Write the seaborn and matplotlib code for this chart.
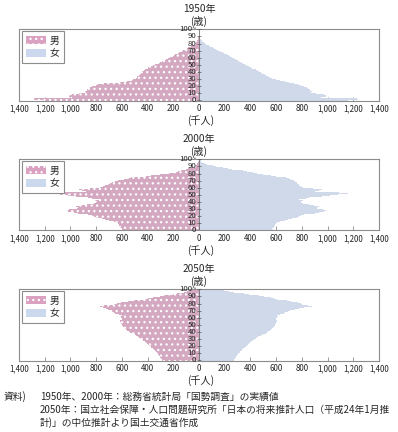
import pandas as pd
import seaborn as sns
import matplotlib.pyplot as plt
from matplotlib.patches import Patch
from matplotlib.transforms import offset_copy

# population by single year of age (thousands), ages 0..100 (100 = 100+)
ages = list(range(101))

male_1950 = [1210, 1290, 1280, 1190, 990, 1010, 1000, 1010, 990, 930,
             900, 880, 890, 880, 870, 870, 860, 850, 850, 830,
             810, 800, 790, 780, 740, 620, 560, 540, 520, 510,
             490, 490, 480, 480, 470, 470, 460, 460, 450, 450,
             440, 440, 430, 420, 410, 400, 400, 390, 380, 360,
             340, 330, 315, 305, 295, 285, 275, 260, 250, 240,
             225, 215, 205, 195, 185, 172, 162, 152, 142, 132,
             125, 115, 105, 95, 85, 75, 65, 55, 48, 40,
             33, 27, 22, 17, 13, 10, 7, 5, 4, 3,
             2, 1, 1, 1, 0, 0, 0, 0, 0, 0, 0]
female_1950 = [1160, 1240, 1230, 1140, 950, 990, 980, 990, 970, 910,
               890, 870, 880, 870, 860, 860, 850, 840, 840, 820,
               800, 790, 770, 760, 740, 700, 670, 650, 630, 600,
               580, 570, 550, 540, 530, 520, 510, 500, 490, 480,
               470, 460, 450, 440, 425, 415, 405, 395, 385, 370,
               360, 350, 340, 330, 320, 310, 300, 290, 280, 270,
               260, 250, 240, 230, 220, 205, 195, 185, 175, 165,
               150, 140, 130, 118, 106, 95, 85, 75, 65, 55,
               47, 40, 33, 27, 21, 16, 12, 9, 7, 5,
               3, 2, 2, 1, 1, 1, 0, 0, 0, 0, 0]

male_2000 = [600, 602, 598, 605, 615, 610, 618, 620, 622, 628,
             630, 640, 660, 690, 700, 730, 755, 780, 800, 820,
             815, 835, 860, 900, 945, 975, 1020, 1050, 1035, 1010,
             975, 950, 945, 960, 705, 915, 870, 845, 820, 800,
             795, 800, 810, 780, 815, 835, 860, 905, 960, 1020,
             1080, 1150, 1140, 1080, 810, 880, 910, 935, 900, 860,
             770, 760, 750, 730, 710, 700, 690, 680, 670, 650,
             630, 600, 580, 560, 530, 460, 410, 370, 330, 300,
             230, 195, 180, 160, 140, 115, 100, 85, 70, 55,
             42, 32, 24, 18, 13, 9, 6, 4, 3, 2, 3]
female_2000 = [572, 575, 570, 578, 585, 582, 590, 590, 592, 598,
               600, 610, 628, 655, 665, 695, 720, 742, 760, 780,
               775, 795, 820, 860, 900, 930, 975, 1000, 985, 965,
               935, 915, 915, 930, 690, 895, 855, 830, 810, 795,
               790, 795, 805, 775, 810, 830, 855, 900, 955, 1015,
               1080, 1160, 1160, 1090, 830, 900, 930, 955, 925, 885,
               810, 800, 790, 780, 775, 770, 765, 760, 750, 745,
               735, 725, 715, 700, 680, 640, 600, 560, 530, 500,
               450, 420, 400, 370, 340, 300, 260, 225, 190, 160,
               130, 105, 82, 64, 48, 36, 26, 18, 12, 8, 13]

male_2050 = [285, 288, 292, 296, 300, 304, 308, 312, 316, 320,
             325, 330, 335, 340, 346, 352, 358, 364, 370, 376,
             382, 388, 394, 400, 406, 412, 418, 424, 432, 440,
             448, 456, 464, 472, 480, 490, 500, 512, 524, 536,
             548, 556, 562, 568, 574, 580, 585, 590, 594, 598,
             600, 602, 605, 608, 610, 612, 612, 600, 590, 596,
             604, 610, 612, 600, 622, 640, 650, 660, 670, 680,
             690, 700, 710, 725, 745, 760, 770, 740, 700, 660,
             640, 610, 580, 550, 510, 465, 430, 395, 360, 330,
             300, 270, 240, 205, 175, 145, 115, 90, 68, 50, 40]
female_2050 = [272, 275, 279, 283, 287, 291, 295, 299, 303, 307,
               311, 316, 321, 326, 331, 337, 343, 349, 355, 362,
               368, 374, 380, 386, 392, 398, 404, 410, 418, 426,
               434, 442, 452, 462, 472, 484, 496, 508, 520, 530,
               538, 546, 552, 558, 564, 570, 575, 580, 585, 588,
               590, 592, 596, 600, 602, 604, 606, 600, 596, 600,
               608, 614, 618, 610, 630, 648, 660, 672, 684, 696,
               710, 725, 745, 780, 820, 860, 875, 850, 820, 800,
               790, 770, 745, 715, 685, 640, 610, 585, 560, 535,
               505, 470, 430, 390, 350, 310, 270, 230, 195, 165, 175]

years = ["1950年", "2000年", "2050年"]
males = [male_1950, male_2000, male_2050]
females = [female_1950, female_2000, female_2050]

x_ticks = list(range(-1400, 1401, 200))
age_ticks = list(range(0, 101, 10))
age_labels = [str(a) for a in age_ticks[:-1]] + ["100~"]

PINK = "#daa1c1"
BLUE = "#cbd8ee"
GRAY = "#8c8c8c"
DARK = "#555555"

sns.set_theme(style="white")
plt.rcParams['font.family'] = ['Noto Sans CJK JP', 'DejaVu Sans']
plt.rcParams['hatch.color'] = 'white'
plt.rcParams['hatch.linewidth'] = 0.9

W, H = 398, 432
fig = plt.figure(figsize=(W / 100, H / 100), dpi=100)

tops = [29, 159, 289]
for year, male, female, top in zip(years, males, females, tops):
    ax = fig.add_axes([19 / W, 1 - (top + 71.5) / H, 360 / W, 71.5 / H])
    df = pd.DataFrame({
        "age": ages + ages,
        "value": [-v for v in male] + female,
        "sex": ["男"] * len(ages) + ["女"] * len(ages),
    })
    sns.barplot(data=df, x="value", y="age", hue="sex", orient="y",
                native_scale=True, width=1, dodge=False, errorbar=None,
                palette={"男": PINK, "女": BLUE}, linewidth=0,
                legend=False, ax=ax)
    for p in ax.patches:
        if p.get_width() < 0:
            p.set_hatch("...")
            p.set_edgecolor("white")
            if hasattr(p, "set_hatchcolor"):
                p.set_hatchcolor("white")
        p.set_linewidth(0)

    ax.set_xlim(-1400, 1400)
    ax.set_ylim(-0.5, 100.5)
    ax.set_xticks(x_ticks)
    ax.set_xticklabels([f"{abs(v):,}" for v in x_ticks])
    ax.set_yticks([])
    ax.set_xlabel("")
    ax.set_ylabel("")
    ax.tick_params(axis="x", direction="in", length=3, width=0.6, color=GRAY,
                   labelsize=5.7, labelcolor="#222222", pad=2.5, bottom=True)
    for s in ax.spines.values():
        s.set_color(GRAY)
        s.set_linewidth(0.8)

    # age axis down the middle
    ax.axvline(0, color=DARK, linewidth=0.5, zorder=5)
    ax.hlines(age_ticks, -12, 12, color=DARK, linewidth=0.5, zorder=5)
    lab_tr = offset_copy(ax.transData, fig=fig, x=-1.8, y=0, units="points")
    for a, lab in zip(age_ticks, age_labels):
        ax.text(0, a, lab, transform=lab_tr, ha="right", va="center",
                fontsize=5.6, color="#222222", zorder=6, clip_on=False)

    handles = [Patch(facecolor=PINK, edgecolor="white", hatch="...", linewidth=0, label="男"),
               Patch(facecolor=BLUE, edgecolor=BLUE, linewidth=0, label="女")]
    leg = ax.legend(handles=handles, loc="upper left", bbox_to_anchor=(0.008, 0.97),
                    borderaxespad=0, frameon=True, fancybox=False, fontsize=7,
                    handlelength=2.0, handleheight=0.8, handletextpad=0.4,
                    labelspacing=0.3, borderpad=0.45, framealpha=1)
    leg.get_frame().set_edgecolor(GRAY)
    leg.get_frame().set_linewidth(0.8)

    fig.text(199 / W, 1 - (top - 20) / H, year, ha="center", va="center", fontsize=7.3)
    fig.text(199 / W, 1 - (top - 8) / H, "(歳)", ha="center", va="center", fontsize=7.3)
    fig.text(201 / W, 1 - (top + 92) / H, "(千人)", ha="center", va="center", fontsize=7.3)

note_y = [396.5, 409.5, 422.5]
fig.text(4 / W, 1 - note_y[0] / H, "資料)", ha="left", va="center", fontsize=7)
fig.text(40 / W, 1 - note_y[0] / H, "1950年、2000年：総務省統計局「国勢調査」の実績値",
         ha="left", va="center", fontsize=7)
fig.text(40 / W, 1 - note_y[1] / H,
         "2050年：国立社会保障・人口問題研究所「日本の将来推計人口（平成24年1月推",
         ha="left", va="center", fontsize=7)
fig.text(40 / W, 1 - note_y[2] / H, "計)」の中位推計より国土交通省作成",
         ha="left", va="center", fontsize=7)

fig.savefig("out.png", dpi=100)
